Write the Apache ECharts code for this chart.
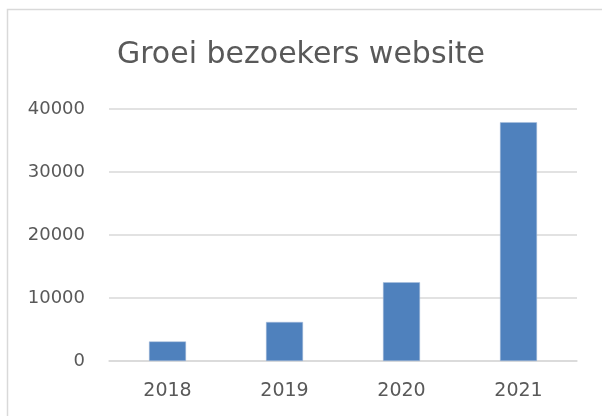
<!DOCTYPE html>
<html>
<head>
<meta charset="utf-8">
<script src="https://cdn.jsdelivr.net/npm/echarts@6/dist/echarts.min.js"></script>
<style>
 html, body { margin: 0; padding: 0; background: #fff; }
 #chart { width: 602px; height: 416px; }
</style>
</head>
<body>
<div id="chart"></div>
<script>
// data
var years = ['2018', '2019', '2020', '2021'];
var visitors = [3100, 6200, 12500, 37900];
var yTicks = [0, 10000, 20000, 30000, 40000];

var myChart = echarts.init(document.getElementById('chart'));

var option = {
	backgroundColor: '#fff',
	animation: false,
	title: {
		text: 'Groei bezoekers website',
		left: 'center',
		top: 35,
		textStyle: {
			fontFamily: 'DejaVu Sans',
			fontSize: 30,
			fontWeight: 'normal',
			color: '#595959'
		}
	},
	// outer chart border, runs off the right and bottom edge
	graphic: [{
		type: 'rect',
		shape: { x: 7.5, y: 9.5, width: 620, height: 430 },
		style: { fill: 'none', stroke: '#d9d9d9', lineWidth: 1.5 },
		silent: true
	}],
	grid: {
		left: 109,
		right: 25,
		top: 109,
		bottom: 55
	},
	xAxis: {
		type: 'category',
		data: years,
		axisLine: { lineStyle: { color: '#d9d9d9', width: 1.5 } },
		axisTick: { show: false },
		axisLabel: {
			margin: 21,
			fontFamily: 'DejaVu Sans',
			fontSize: 19,
			color: '#595959'
		}
	},
	yAxis: {
		type: 'value',
		min: yTicks[0],
		max: yTicks[yTicks.length - 1],
		interval: yTicks[1] - yTicks[0],
		axisLine: { show: false },
		axisTick: { show: false },
		splitLine: { lineStyle: { color: '#d9d9d9', width: 1.5 } },
		axisLabel: {
			margin: 24,
			fontFamily: 'DejaVu Sans',
			fontSize: 18,
			color: '#595959',
			formatter: function(v) { return String(v); }
		}
	},
	series: [{
		type: 'bar',
		data: visitors,
		barWidth: 37,
		itemStyle: {
			color: '#4f81bd',
			borderColor: '#a9bfdc',
			borderWidth: 0.5
		}
	}]
};

myChart.setOption(option);
</script>
</body>
</html>
